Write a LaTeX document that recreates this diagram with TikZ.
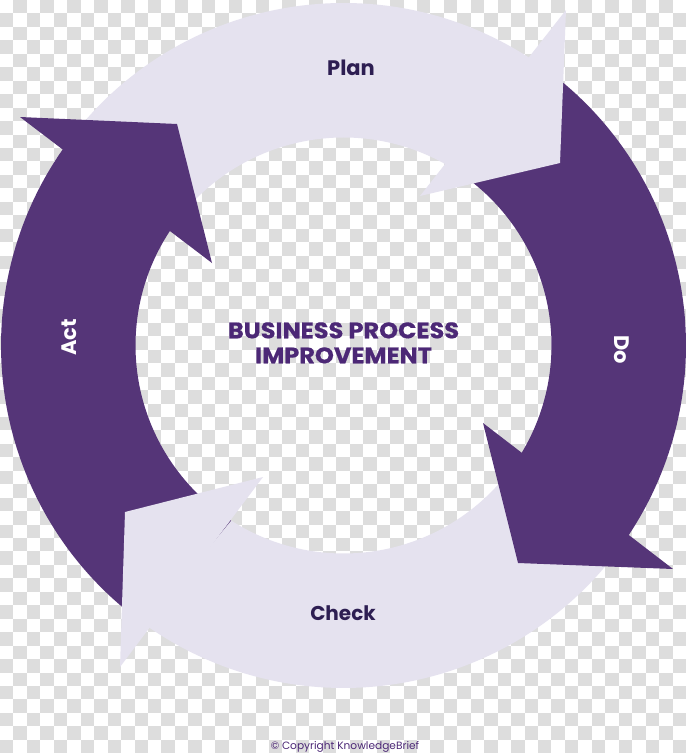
\documentclass[tikz,border=0pt]{standalone}
\usepackage{fontspec}
\setmainfont{Poppins}
\newfontfamily\titlefam{Poppins}[BoldFeatures={FakeBold=0.6}]
\usetikzlibrary{calc}
\definecolor{arcpurple}{RGB}{85,53,120}
\definecolor{arclight}{RGB}{229,226,239}
\definecolor{titlepurple}{RGB}{76,40,118}
\definecolor{labeldark}{RGB}{45,30,82}
\definecolor{checkgrey}{RGB}{221,221,221}
\begin{document}
\begin{tikzpicture}[x=1pt,y=1pt,
  purplearc/.style={fill=arcpurple},
  lightarc/.style={fill=arclight},
  darklabel/.style={font=\bfseries\fontsize{21}{21}\selectfont, text=labeldark, inner sep=0pt},
  whitelabel/.style={font=\bfseries\fontsize{21}{21}\selectfont, text=white, inner sep=0pt},
  titletext/.style={font=\titlefam\bfseries\fontsize{22.5}{22.5}\selectfont, text=titlepurple, inner sep=0pt},
  copytext/.style={font=\fontsize{10.6}{10.6}\selectfont, text=titlepurple, inner sep=0pt}]
\useasboundingbox (0,0) rectangle (686,-753);
\fill[white] (0,0) rectangle (686,-753);
\begin{scope}
\clip (0,0) rectangle (686,-753);
\foreach \i in {0,...,50}{\foreach \k in {0,...,27}{
  \fill[checkgrey] ({\i*13.45},{-(2*\k+mod(\i+1,2))*13.45}) rectangle ++(13.45,-13.45);}}
\end{scope}
\coordinate (C) at (343.5,-345.5);
% bodies
\fill[lightarc] ($(C)+(144.2:342.5)$) arc[start angle=144.2, end angle=56.2, radius=342.5]
  -- ($(C)+(60.2:208)$) arc[start angle=60.2, end angle=146.2, radius=208] -- cycle;
\fill[purplearc] ($(C)+(56.2:342.5)$) arc[start angle=56.2, end angle=-34.4, radius=342.5]
  -- ($(C)+(-32.2:208)$) arc[start angle=-32.2, end angle=60.2, radius=208] -- cycle;
\fill[lightarc] ($(C)+(-34.4:342.5)$) arc[start angle=-34.4, end angle=-125.4, radius=342.5]
  -- ($(C)+(-122.7:208)$) arc[start angle=-122.7, end angle=-32.2, radius=208] -- cycle;
\fill[purplearc] ($(C)+(-125.4:342.5)$) arc[start angle=-125.4, end angle=-215.8, radius=342.5]
  -- ($(C)+(-213.8:208)$) arc[start angle=-213.8, end angle=-122.7, radius=208] -- cycle;
% heads
\fill[lightarc] (566,-10) -- (560,-163) -- (420,-196) -- cycle;
\fill[purplearc] (673,-569) -- (518,-563) -- (483,-423) -- cycle;
\fill[lightarc] (120,-667) -- (125,-512) -- (263,-477) -- cycle;
\fill[purplearc] (20,-117) -- (177,-124) -- (212,-263) -- cycle;
% labels
\node[darklabel, anchor=base] (plan) at (351,-75) {Plan};
\node[whitelabel, rotate=-90] (do) at (621.5,-349.5) {Do};
\node[darklabel, anchor=base, font=\bfseries\fontsize{20}{20}\selectfont] (check) at (343,-620) {Check};
\node[whitelabel, rotate=90] (act) at (69,-337.5) {Act};
\node[titletext, anchor=base] (title1) at (343.5,-338.3) {\scalebox{1.07}[1]{BUSINESS PROCESS}};
\node[titletext, anchor=base] (title2) at (343.5,-363.3) {\scalebox{1.07}[1]{IMPROVEMENT}};
\node[copytext, anchor=base] (copy) at (345,-749) {© Copyright KnowledgeBrief};
\end{tikzpicture}
\end{document}
